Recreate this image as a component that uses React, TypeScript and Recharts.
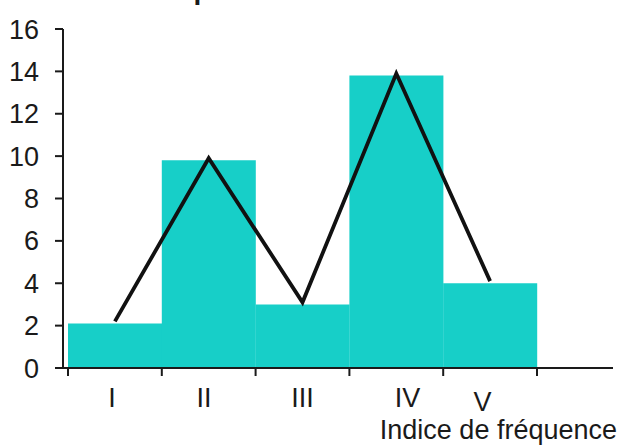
import { ComposedChart, Bar, Line, XAxis, YAxis } from 'recharts';

// frequency classes (Raunkiaer) and counts
const classes = ['I', 'II', 'III', 'IV', 'V'];
const speciesCount = [2.1, 9.8, 3, 13.8, 4];
const polygonPoints = [2.2, 9.9, 3.1, 13.9, 4.1];
const yTicks = [0, 2, 4, 6, 8, 10, 12, 14, 16];
const boundaryTicks = [0, 1, 2, 3, 4, 5];
const labelTicks = [0.47, 1.45, 2.5, 3.62, 4.42];

const FONT = '"Liberation Sans", Arial, Helvetica, sans-serif';
const INK = '#1a1a1a';

const chartData = classes.map((name, i) => ({
  name,
  slot: i,
  count: speciesCount[i],
  poly: polygonPoints[i],
}));

const RomanTick = (props: any) => {
  const { x, y, index } = props;
  return (
    <text
      x={x}
      y={y + (index === 4 ? 4 : 0)}
      dy="0.71em"
      textAnchor="middle"
      fontSize={27}
      fontFamily={FONT}
      fill={INK}
    >
      {classes[index]}
    </text>
  );
};

export default function App() {
  return (
    <div
      style={{
        position: 'absolute',
        left: 0,
        top: 0,
        width: 625,
        height: 446,
        overflow: 'hidden',
        background: '#fff',
      }}
    >
      <div
        style={{
          position: 'absolute',
          left: 25,
          top: -24,
          fontFamily: FONT,
          fontWeight: 'bold',
          fontSize: 28,
          lineHeight: 1,
          color: INK,
          whiteSpace: 'nowrap',
        }}
      >
        Nombre d'espèces
      </div>
      <ComposedChart
        width={625}
        height={446}
        data={chartData}
        barCategoryGap={0}
        margin={{ top: 29, right: 12, bottom: 11, left: 0 }}
      >
        <XAxis
          xAxisId="cat"
          dataKey="name"
          type="category"
          padding={{ left: 5, right: 76 }}
          height={0}
          hide
        />
        <XAxis
          xAxisId="frame"
          dataKey="slot"
          type="number"
          domain={[0, 5]}
          allowDataOverflow
          ticks={boundaryTicks}
          interval={0}
          padding={{ left: 5, right: 76 }}
          height={10}
          tickFormatter={() => ''}
          tickSize={8}
          axisLine={{ stroke: INK, strokeWidth: 2 }}
          tickLine={{ stroke: INK, strokeWidth: 2 }}
        />
        <XAxis
          xAxisId="labels"
          dataKey="slot"
          type="number"
          domain={[0, 5]}
          allowDataOverflow
          ticks={labelTicks}
          interval={0}
          padding={{ left: 5, right: 76 }}
          height={57}
          axisLine={false}
          tickLine={false}
          tickSize={0}
          tickMargin={10}
          tick={<RomanTick />}
          label={{
            value: 'Indice de fréquence',
            position: 'insideBottomRight',
            offset: -4,
            fontSize: 27,
            fontFamily: FONT,
            fill: INK,
          }}
        />
        <YAxis
          width={63}
          domain={[0, 16]}
          ticks={yTicks}
          interval={0}
          tickSize={8}
          tickMargin={16}
          axisLine={{ stroke: INK, strokeWidth: 2 }}
          tickLine={{ stroke: INK, strokeWidth: 2 }}
          tick={{ fontSize: 27, fontFamily: FONT, fill: INK }}
        />
        <Bar
          xAxisId="cat"
          dataKey="count"
          fill="#17cfc8"
          isAnimationActive={false}
        />
        <Line
          xAxisId="cat"
          type="linear"
          dataKey="poly"
          stroke="#111"
          strokeWidth={3.8}
          dot={false}
          activeDot={false}
          isAnimationActive={false}
        />
      </ComposedChart>
    </div>
  );
}
